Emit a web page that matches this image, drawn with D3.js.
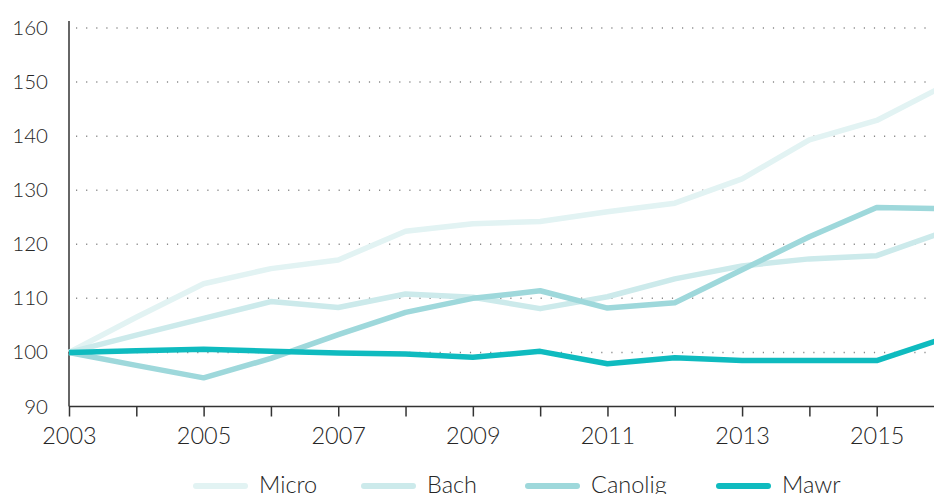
<!DOCTYPE html>
<html>
<head>
<meta charset="utf-8">
<script src="https://cdn.jsdelivr.net/npm/d3@7"></script>
<style>
  html, body { margin: 0; padding: 0; background: #fff; overflow: hidden; }
  svg { display: block; font-family: Lato, "Open Sans", sans-serif; }
</style>
</head>
<body>
<svg id="chart" width="934" height="494"></svg>
<script>
const years = [2003, 2004, 2005, 2006, 2007, 2008, 2009, 2010, 2011, 2012, 2013, 2014, 2015, 2016];
const micro   = [100, 106.5, 112.7, 115.5, 117.1, 122.4, 123.8, 124.2, 126.0, 127.6, 132.1, 139.3, 142.9, 149.3];
const bach    = [100, 103.2, 106.3, 109.4, 108.3, 110.8, 110.2, 108.1, 110.3, 113.6, 116.0, 117.3, 117.9, 122.3];
const canolig = [100, 97.6, 95.3, 98.9, 103.3, 107.4, 110.0, 111.4, 108.2, 109.2, 115.3, 121.4, 126.8, 126.6];
const mawr    = [100, 100.3, 100.6, 100.2, 99.9, 99.7, 99.1, 100.2, 97.9, 99.0, 98.5, 98.5, 98.5, 102.6];
const seriesNames = ["Micro", "Bach", "Canolig", "Mawr"];
const seriesColors = ["#e2f3f3", "#cceaeb", "#9ed8db", "#0fbbbf"];
const yTicks = [90, 100, 110, 120, 130, 140, 150, 160];
const xLabelYears = [2003, 2005, 2007, 2009, 2011, 2013, 2015];

const svg = d3.select("#chart");
const x = d3.scaleLinear().domain([2003, 2016]).range([69, 944]);
const y = d3.scaleLinear().domain([90, 160]).range([406.5, 28]);
const textColor = "#262626";
const fontW = 300;

// gridlines
svg.append("g").selectAll("line")
  .data(yTicks.filter(d => d > 90))
  .join("line")
  .attr("x1", 76).attr("x2", 934)
  .attr("y1", d => y(d)).attr("y2", d => y(d))
  .attr("stroke", "#8a8a8a").attr("stroke-width", 1.5)
  .attr("stroke-dasharray", "1.2 8.9");

// y axis
const yAxis = d3.axisLeft(y).tickValues(yTicks).tickSize(0).tickPadding(21);
const gy = svg.append("g").attr("transform", "translate(69,0)").call(yAxis);
gy.select(".domain").remove();
gy.selectAll("text").attr("font-size", 20.5).attr("fill", textColor)
  .attr("font-weight", fontW).attr("font-family", "Lato, sans-serif");
svg.append("line").attr("x1", 69).attr("x2", 69).attr("y1", 21).attr("y2", y(90))
  .attr("stroke", "#333").attr("stroke-width", 1.5);

// x axis
const xAxis = d3.axisBottom(x).tickValues(years).tickSize(10).tickPadding(11)
  .tickFormat(d => xLabelYears.includes(d) ? String(d) : "");
const gx = svg.append("g").attr("transform", `translate(0,${y(90)})`).call(xAxis);
gx.select(".domain").attr("stroke", "#333").attr("stroke-width", 1.5)
  .attr("d", `M69,0H944`);
gx.selectAll(".tick line").attr("stroke", "#333").attr("stroke-width", 1.5);
gx.selectAll("text").attr("font-size", 23.5).attr("fill", textColor)
  .attr("font-weight", fontW).attr("font-family", "Lato, sans-serif");

// lines
const allSeries = [micro, bach, canolig, mawr];
const line = d3.line().x((d, i) => x(years[i])).y(d => y(d));
svg.append("g").selectAll("path")
  .data(allSeries)
  .join("path")
  .attr("d", d => line(d))
  .attr("fill", "none")
  .attr("stroke", (d, i) => seriesColors[i])
  .attr("stroke-width", 5.5)
  .attr("stroke-linejoin", "round");

// legend
const legendX = [193, 361, 525, 716];
const lg = svg.append("g").selectAll("g")
  .data(seriesNames)
  .join("g")
  .attr("transform", (d, i) => `translate(${legendX[i]},486)`);
lg.append("line").attr("x1", 3).attr("x2", 52).attr("y1", 0).attr("y2", 0)
  .attr("stroke", (d, i) => seriesColors[i]).attr("stroke-width", 6)
  .attr("stroke-linecap", "round");
lg.append("text").attr("x", 66).attr("y", 7)
  .attr("font-size", 23.5).attr("font-weight", fontW).attr("fill", textColor)
  .text(d => d);
</script>
</body>
</html>
